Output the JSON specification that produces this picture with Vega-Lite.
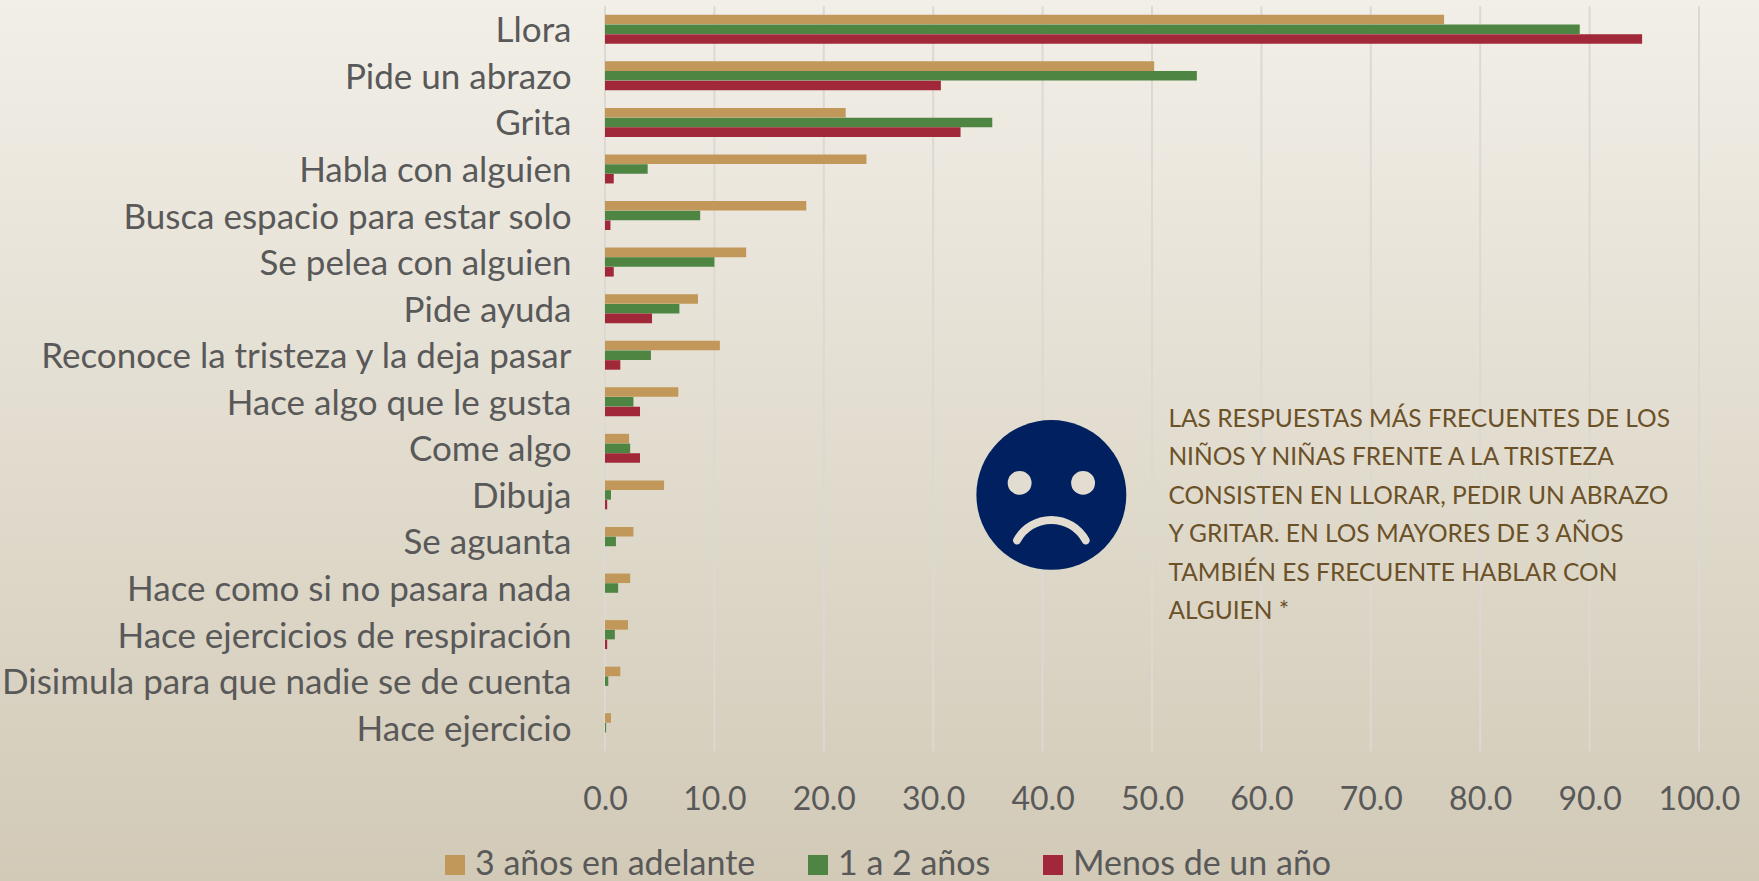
{"$schema":"https://vega.github.io/schema/vega-lite/v6.json","autosize":{"type":"none"},"padding":{"left":605,"top":6,"right":60,"bottom":130},"width":1094,"height":745,
"background":"#E3DED2",
"config":{"view":{"stroke":null},"font":"Lato"},
"datasets":{"d":[
{"c":"Llora","g":"3 años en adelante","v":76.7},{"c":"Llora","g":"1 a 2 años","v":89.1},{"c":"Llora","g":"Menos de un año","v":94.8},
{"c":"Pide un abrazo","g":"3 años en adelante","v":50.2},{"c":"Pide un abrazo","g":"1 a 2 años","v":54.1},{"c":"Pide un abrazo","g":"Menos de un año","v":30.7},
{"c":"Grita","g":"3 años en adelante","v":22.0},{"c":"Grita","g":"1 a 2 años","v":35.4},{"c":"Grita","g":"Menos de un año","v":32.5},
{"c":"Habla con alguien","g":"3 años en adelante","v":23.9},{"c":"Habla con alguien","g":"1 a 2 años","v":3.9},{"c":"Habla con alguien","g":"Menos de un año","v":0.8},
{"c":"Busca espacio para estar solo","g":"3 años en adelante","v":18.4},{"c":"Busca espacio para estar solo","g":"1 a 2 años","v":8.7},{"c":"Busca espacio para estar solo","g":"Menos de un año","v":0.5},
{"c":"Se pelea con alguien","g":"3 años en adelante","v":12.9},{"c":"Se pelea con alguien","g":"1 a 2 años","v":10.0},{"c":"Se pelea con alguien","g":"Menos de un año","v":0.8},
{"c":"Pide ayuda","g":"3 años en adelante","v":8.5},{"c":"Pide ayuda","g":"1 a 2 años","v":6.8},{"c":"Pide ayuda","g":"Menos de un año","v":4.3},
{"c":"Reconoce la tristeza y la deja pasar","g":"3 años en adelante","v":10.5},{"c":"Reconoce la tristeza y la deja pasar","g":"1 a 2 años","v":4.2},{"c":"Reconoce la tristeza y la deja pasar","g":"Menos de un año","v":1.4},
{"c":"Hace algo que le gusta","g":"3 años en adelante","v":6.7},{"c":"Hace algo que le gusta","g":"1 a 2 años","v":2.6},{"c":"Hace algo que le gusta","g":"Menos de un año","v":3.2},
{"c":"Come algo","g":"3 años en adelante","v":2.2},{"c":"Come algo","g":"1 a 2 años","v":2.3},{"c":"Come algo","g":"Menos de un año","v":3.2},
{"c":"Dibuja","g":"3 años en adelante","v":5.4},{"c":"Dibuja","g":"1 a 2 años","v":0.55},{"c":"Dibuja","g":"Menos de un año","v":0.2},
{"c":"Se aguanta","g":"3 años en adelante","v":2.6},{"c":"Se aguanta","g":"1 a 2 años","v":1.0},
{"c":"Hace como si no pasara nada","g":"3 años en adelante","v":2.3},{"c":"Hace como si no pasara nada","g":"1 a 2 años","v":1.2},
{"c":"Hace ejercicios de respiración","g":"3 años en adelante","v":2.1},{"c":"Hace ejercicios de respiración","g":"1 a 2 años","v":0.9},{"c":"Hace ejercicios de respiración","g":"Menos de un año","v":0.2},
{"c":"Disimula para que nadie se de cuenta","g":"3 años en adelante","v":1.4},{"c":"Disimula para que nadie se de cuenta","g":"1 a 2 años","v":0.3},
{"c":"Hace ejercicio","g":"3 años en adelante","v":0.55},{"c":"Hace ejercicio","g":"1 a 2 años","v":0.1}
]},
"layer":[
{"data":{"values":[{"p":"fondo"}]},"mark":{"type":"rect","clip":false,"color":{"gradient":"linear","x1":0,"y1":0,"x2":0,"y2":1,"stops":[{"offset":0,"color":"#F2EFE8"},{"offset":1,"color":"#D2CAB7"}]}},"encoding":{"x":{"value":-605},"x2":{"value":1154},"y":{"value":-6},"y2":{"value":875}}},
{"data":{"values":[{"x":0},{"x":10},{"x":20},{"x":30},{"x":40},{"x":50},{"x":60},{"x":70},{"x":80},{"x":90},{"x":100}]},"mark":{"type":"rule","color":"#DCD9D2","strokeWidth":2},"encoding":{"x":{"field":"x","type":"quantitative"}}},
{"encoding":{"y":{"field":"c","type":"nominal","title":null,"sort":["Llora","Pide un abrazo","Grita","Habla con alguien","Busca espacio para estar solo","Se pelea con alguien","Pide ayuda","Reconoce la tristeza y la deja pasar","Hace algo que le gusta","Come algo","Dibuja","Se aguanta","Hace como si no pasara nada","Hace ejercicios de respiración","Disimula para que nadie se de cuenta","Hace ejercicio"],
"scale":{"paddingInner":0.378,"paddingOuter":0.189},
"axis":{"zindex":1,"ticks":false,"domain":false,"grid":false,"labelPadding":34,"labelFontSize":35,"labelOffset":2,"labelColor":"#595959","labelLimit":700,"labelFont":"Lato"}}},
"layer":[
{"data":{"name":"d"},"mark":{"type":"bar"},"encoding":{
"x":{"field":"v","type":"quantitative","title":null,"scale":{"domain":[0,100],"nice":false},"axis":{"zindex":1,"values":[0,10,20,30,40,50,60,70,80,90,100],"format":".1f","ticks":false,"domain":false,"grid":false,"labelFontSize":32,"labelColor":"#595959","labelPadding":33,"labelFont":"Lato","labelOverlap":false,"labelBound":false,"labelFlush":false}},
"yOffset":{"field":"g","type":"nominal","sort":["3 años en adelante","1 a 2 años","Menos de un año"],"scale":{"paddingInner":0.02}},
"color":{"field":"g","type":"nominal","sort":["3 años en adelante","1 a 2 años","Menos de un año"],"scale":{"domain":["3 años en adelante","1 a 2 años","Menos de un año"],"range":["#C19859","#4F8542","#A02838"]},
"legend":{"title":null,"orient":"none","direction":"horizontal","columns":3,"gridAlign":"none","legendX":-167,"legendY":842,"symbolType":"square","symbolSize":400,"symbolOpacity":1,"labelFontSize":34,"labelColor":"#595959","labelOffset":3,"columnPadding":45,"labelLimit":400,"labelFont":"Lato"}}}},
{"data":{"values":[{"c":"Dibuja","x":40.8}]},"mark":{"type":"point","filled":true,"shape":"circle","size":22480,"color":"#002060","opacity":1},"encoding":{"x":{"field":"x","type":"quantitative"}}},
{"data":{"values":[{"c":"Dibuja","x":37.9},{"c":"Dibuja","x":43.7}]},"mark":{"type":"point","filled":true,"shape":"circle","size":570,"color":"#E2DDD0","opacity":1,"yOffset":-12},"encoding":{"x":{"field":"x","type":"quantitative"}}},
{"data":{"values":[{"c":"Dibuja","x":40.8}]},"mark":{"type":"arc","theta":-1.18,"theta2":1.18,"radius":43,"radius2":35,"cornerRadius":4,"color":"#E2DDD0","yOffset":64},"encoding":{"x":{"field":"x","type":"quantitative"}}},
{"data":{"values":[{"c":"Dibuja","x":51.5,"t":"LAS RESPUESTAS MÁS FRECUENTES DE LOS\nNIÑOS Y NIÑAS FRENTE A LA TRISTEZA\nCONSISTEN EN LLORAR, PEDIR UN ABRAZO\nY GRITAR. EN LOS MAYORES DE 3 AÑOS\nTAMBIÉN ES FRECUENTE HABLAR CON\nALGUIEN *"}]},"mark":{"type":"text","align":"left","baseline":"middle","lineBreak":"\n","lineHeight":38.5,"fontSize":24.5,"color":"#6B5128","font":"Lato","dy":-75},"encoding":{"x":{"field":"x","type":"quantitative"},"text":{"field":"t"}}}
]}
]}
